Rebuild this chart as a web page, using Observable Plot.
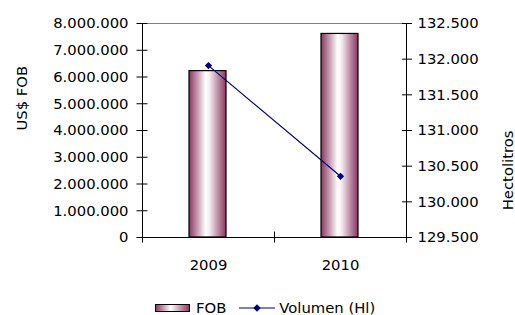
<!DOCTYPE html>
<html>
<head>
<meta charset="utf-8">
<script src="https://cdn.jsdelivr.net/npm/d3@7"></script>
<script src="https://cdn.jsdelivr.net/npm/@observablehq/plot@0.6"></script>
<style>
  html, body { margin: 0; padding: 0; background: #fff; }
  #wrap { position: relative; width: 515px; height: 315px; overflow: hidden; font-family: "DejaVu Sans", sans-serif; }
  #legend { position: absolute; left: 155px; top: 300px; display: flex; align-items: center; font-size: 14.8px; color: #000; line-height: 16px; white-space: nowrap; }
  #legend svg { display: block; }
</style>
</head>
<body>
<div id="wrap"></div>
<script>
const years = ["2009", "2010"];
const fob = [6220000, 7610000];
const volumen = [131910, 130358];
const fobTicks = [0, 1000000, 2000000, 3000000, 4000000, 5000000, 6000000, 7000000, 8000000];
const volTicks = [129500, 130000, 130500, 131000, 131500, 132000, 132500];
const fobMax = 8000000;
const volMin = 129500, volMax = 132500;

const fmt = d3.formatLocale({decimal: ",", thousands: ".", grouping: [3], currency: ["", ""]}).format(",.0f");
// map right-axis (volume) values onto the left scale
const toLeft = v => (v - volMin) / (volMax - volMin) * fobMax;

const data = years.map((y, i) => ({year: y, fob: fob[i], vol: volumen[i]}));
const font = "DejaVu Sans, sans-serif";

const chart = Plot.plot({
  width: 515,
  height: 300,
  marginLeft: 142,
  marginRight: 109,
  marginTop: 23,
  marginBottom: 63,
  style: {fontFamily: font, fontSize: "14.8px", background: "white", color: "#000"},
  x: {type: "band", domain: years, padding: 0, axis: null, label: null},
  y: {domain: [0, fobMax], axis: null, label: null},
  marks: [
    // top border of plot area
    Plot.ruleY([fobMax], {stroke: "#808080", strokeWidth: 1}),
    // bars
    Plot.barY(data, {x: "year", y: "fob", fill: "url(#fobgrad)", stroke: "#000", strokeWidth: 1.2, insetLeft: 47, insetRight: 48}),
    // line
    Plot.line(data, {x: "year", y: d => toLeft(d.vol), stroke: "#000080", strokeWidth: 1.2}),
    Plot.dot(data, {x: "year", y: d => toLeft(d.vol), fill: "#000080", stroke: "none", r: 3.3, symbol: d3.symbolDiamond2 || "diamond"}),
    // left axis
    Plot.ruleX([0], {x: () => years[0], dx: -66, y1: 0, y2: fobMax, stroke: "#000"}),
    Plot.axisY({ticks: fobTicks, tickSize: 11, dx: 5.5, tickFormat: () => "", stroke: "#000", label: null}),
    Plot.axisY({ticks: fobTicks, tickSize: 0, tickPadding: 14, tickFormat: fmt, label: null}),
    // right axis
    Plot.ruleX([0], {x: () => years[1], dx: 66, y1: 0, y2: fobMax, stroke: "#000"}),
    Plot.axisY({anchor: "right", ticks: volTicks.map(toLeft), tickSize: 10, dx: -5, tickFormat: () => "", stroke: "#000", label: null}),
    Plot.axisY({anchor: "right", ticks: volTicks.map(toLeft), tickSize: 0, tickPadding: 11, tickFormat: v => fmt(Math.round(v / fobMax * (volMax - volMin) + volMin)), label: null}),
    // bottom axis
    Plot.ruleY([0], {stroke: "#000"}),
    Plot.axisX({ticks: years, tickSize: 11, dx: -66, dy: -5.5, tickFormat: () => "", stroke: "#000", label: null}),
    Plot.axisX({ticks: [years[1]], tickSize: 11, dx: 66, dy: -5.5, tickFormat: () => "", stroke: "#000", label: null}),
    Plot.axisX({ticks: years, tickSize: 0, tickPadding: 22, label: null}),
    // axis titles
    Plot.text(["US$ FOB"], {frameAnchor: "left", dx: -120, text: d => d, rotate: -90, fontSize: 14.8}),
    Plot.text(["Hectolitros"], {frameAnchor: "right", dx: 102, text: d => d, rotate: -90, fontSize: 14.8})
  ]
});

// gradient definition for the bars
const svgNS = "http://www.w3.org/2000/svg";
const defs = document.createElementNS(svgNS, "defs");
defs.innerHTML = `<linearGradient id="fobgrad" x1="0" x2="1" y1="0" y2="0">
  <stop offset="0%" stop-color="#8a3560"/>
  <stop offset="45%" stop-color="#ffffff"/>
  <stop offset="55%" stop-color="#f6eef2"/>
  <stop offset="100%" stop-color="#8a3560"/>
</linearGradient>`;
chart.insertBefore(defs, chart.firstChild);

const wrap = document.getElementById("wrap");
wrap.appendChild(chart);

// legend below the chart
const legend = document.createElement("div");
legend.id = "legend";
legend.innerHTML = `
  <svg width="35" height="8" style="margin-right:6px"><defs><linearGradient id="leggrad" x1="0" x2="1"><stop offset="0%" stop-color="#8a3560"/><stop offset="45%" stop-color="#ffffff"/><stop offset="100%" stop-color="#8a3560"/></linearGradient></defs><rect x="0.5" y="0.5" width="34" height="7" fill="url(#leggrad)" stroke="#000"/></svg>
  <span>FOB</span>
  <svg width="36" height="10" style="margin-left:13px;margin-right:4px"><line x1="0" x2="36" y1="5" y2="5" stroke="#000080" stroke-width="1.2"/><path d="M18,1.3L21.7,5L18,8.7L14.3,5Z" fill="#000080"/></svg>
  <span>Volumen (Hl)</span>`;
wrap.appendChild(legend);
</script>
</body>
</html>
